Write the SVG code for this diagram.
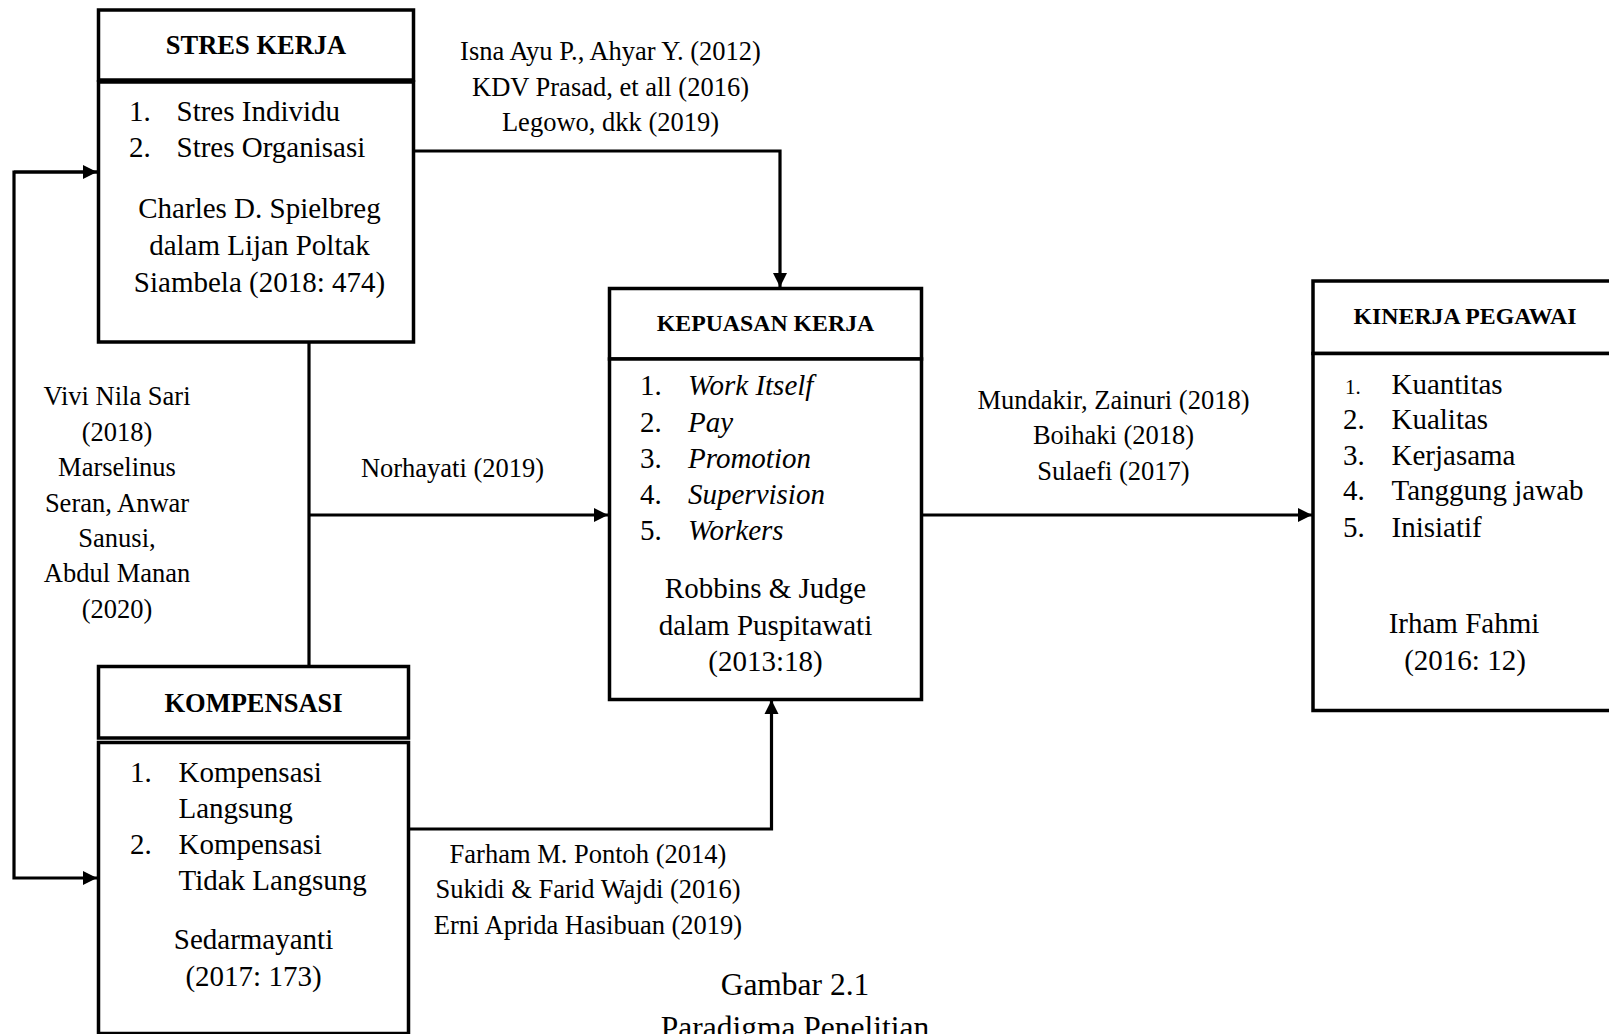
<svg xmlns="http://www.w3.org/2000/svg" width="1609" height="1034" viewBox="0 0 1609 1034">
<style>
text { font-family: "Liberation Serif", "Times New Roman", serif; fill: #000; }
.box { fill: #fff; stroke: #000; stroke-width: 3.5; }
.hd { font-weight: bold; }
.hd1 { font-size: 26.5px; }
.hd2 { font-size: 23.8px; }
.bd { font-size: 29px; }
.lb { font-size: 26.5px; }
.it { font-style: italic; }
.c { text-anchor: middle; }
.cap { font-size: 31.5px; }
.conn { fill: none; stroke: #000; stroke-width: 3.2; }
</style>
<defs>
<marker id="arr" viewBox="0 0 10 10" refX="10" refY="5" markerWidth="4.6" markerHeight="4.4" markerUnits="strokeWidth" orient="auto">
<path d="M0,0 L10,5 L0,10 z" fill="#000"/>
</marker>
</defs>
<rect width="1609" height="1034" fill="#fff"/>

<g id="connectors">
<polyline class="conn" points="413,151 780,151 780,287" marker-end="url(#arr)"/>
<line class="conn" x1="309" y1="342" x2="309" y2="666"/>
<polyline class="conn" points="309,515 608,515" marker-end="url(#arr)"/>
<polyline class="conn" points="408,829 771.5,829 771.5,700" marker-end="url(#arr)"/>
<polyline class="conn" points="921,515 1312,515" marker-end="url(#arr)"/>
<polyline class="conn" points="98,172 14,172 14,878 97,878" marker-end="url(#arr)"/>
<polyline class="conn" points="14,172 97,172" marker-end="url(#arr)"/>
</g>

<g id="labels">
<text class="lb c" x="610.5" y="60">Isna Ayu P., Ahyar Y. (2012)</text>
<text class="lb c" x="610.5" y="95.5">KDV Prasad, et all (2016)</text>
<text class="lb c" x="610.5" y="131">Legowo, dkk (2019)</text>
<text class="lb c" x="452.5" y="476.5">Norhayati (2019)</text>
<text class="lb c" x="117" y="405">Vivi Nila Sari</text>
<text class="lb c" x="117" y="440.5">(2018)</text>
<text class="lb c" x="117" y="476">Marselinus</text>
<text class="lb c" x="117" y="512">Seran, Anwar</text>
<text class="lb c" x="117" y="547">Sanusi,</text>
<text class="lb c" x="117" y="582">Abdul Manan</text>
<text class="lb c" x="117" y="617.5">(2020)</text>
<text class="lb c" x="1113.5" y="409">Mundakir, Zainuri (2018)</text>
<text class="lb c" x="1113.5" y="444">Boihaki (2018)</text>
<text class="lb c" x="1113.5" y="480">Sulaefi (2017)</text>
<text class="lb c" x="588" y="862.5">Farham M. Pontoh (2014)</text>
<text class="lb c" x="588" y="898">Sukidi &amp; Farid Wajdi (2016)</text>
<text class="lb c" x="588" y="933.5">Erni Aprida Hasibuan (2019)</text>
<text class="cap c" x="795" y="995">Gambar 2.1</text>
<text class="cap c" x="795" y="1038">Paradigma Penelitian</text>
</g>

<g id="stres-kerja">
<rect class="box" x="98.5" y="10" width="315" height="70"/>
<rect class="box" x="98.5" y="82" width="315" height="260"/>
<text class="hd hd1 c" x="256" y="53.5">STRES KERJA</text>
<text class="bd" x="129" y="120.5">1.</text>
<text class="bd" x="176.5" y="120.5">Stres Individu</text>
<text class="bd" x="129" y="156.5">2.</text>
<text class="bd" x="176.5" y="156.5">Stres Organisasi</text>
<text class="bd c" x="259.5" y="218">Charles D. Spielbreg</text>
<text class="bd c" x="259.5" y="255">dalam Lijan Poltak</text>
<text class="bd c" x="259.5" y="292">Siambela (2018: 474)</text>
</g>

<g id="kompensasi">
<rect class="box" x="98.5" y="666.5" width="310" height="71.5"/>
<rect class="box" x="98.5" y="742.5" width="310" height="291"/>
<text class="hd hd1 c" x="253.5" y="712">KOMPENSASI</text>
<text class="bd" x="130" y="782">1.</text>
<text class="bd" x="178.5" y="782">Kompensasi</text>
<text class="bd" x="178.5" y="818">Langsung</text>
<text class="bd" x="130" y="854">2.</text>
<text class="bd" x="178.5" y="854">Kompensasi</text>
<text class="bd" x="178.5" y="890">Tidak Langsung</text>
<text class="bd c" x="253.5" y="949">Sedarmayanti</text>
<text class="bd c" x="253.5" y="986">(2017: 173)</text>
</g>

<g id="kepuasan-kerja">
<rect class="box" x="609.5" y="288.5" width="312" height="70.5"/>
<rect class="box" x="609.5" y="359" width="312" height="340.5"/>
<text class="hd hd2 c" x="765.5" y="330.5">KEPUASAN KERJA</text>
<text class="bd" x="640" y="395">1.</text>
<text class="bd it" x="688" y="395">Work Itself</text>
<text class="bd" x="640" y="431.5">2.</text>
<text class="bd it" x="688" y="431.5">Pay</text>
<text class="bd" x="640" y="468">3.</text>
<text class="bd it" x="688" y="468">Promotion</text>
<text class="bd" x="640" y="504">4.</text>
<text class="bd it" x="688" y="504">Supervision</text>
<text class="bd" x="640" y="540">5.</text>
<text class="bd it" x="688" y="540">Workers</text>
<text class="bd c" x="765.5" y="598">Robbins &amp; Judge</text>
<text class="bd c" x="765.5" y="635">dalam Puspitawati</text>
<text class="bd c" x="765.5" y="671">(2013:18)</text>
</g>

<g id="kinerja-pegawai">
<rect class="box" x="1313" y="281" width="310" height="72.5"/>
<rect class="box" x="1313" y="353.5" width="310" height="357"/>
<text class="hd hd2 c" x="1465" y="323.5">KINERJA PEGAWAI</text>
<text x="1345" y="393.5" style="font-size:21px">1.</text>
<text class="bd" x="1391.5" y="393.5">Kuantitas</text>
<text class="bd" x="1343" y="428.5">2.</text>
<text class="bd" x="1391.5" y="428.5">Kualitas</text>
<text class="bd" x="1343" y="464.5">3.</text>
<text class="bd" x="1391.5" y="464.5">Kerjasama</text>
<text class="bd" x="1343" y="500">4.</text>
<text class="bd" x="1391.5" y="500">Tanggung jawab</text>
<text class="bd" x="1343" y="536.5">5.</text>
<text class="bd" x="1391.5" y="536.5">Inisiatif</text>
<text class="bd c" x="1464" y="632.5">Irham Fahmi</text>
<text class="bd c" x="1465" y="669.5">(2016: 12)</text>
</g>
</svg>
